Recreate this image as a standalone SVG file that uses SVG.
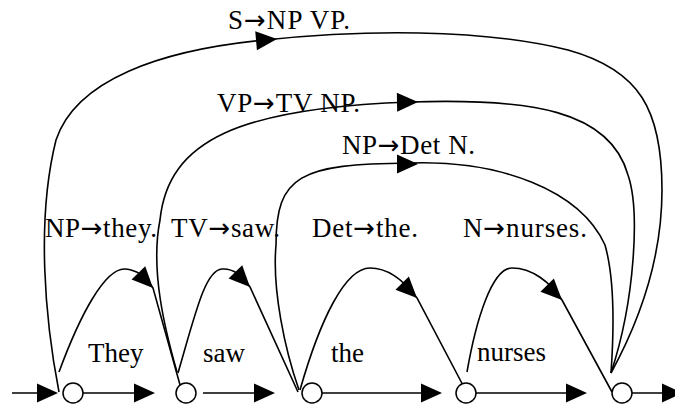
<svg xmlns="http://www.w3.org/2000/svg" xmlns:xlink="http://www.w3.org/1999/xlink" width="675" height="410" viewBox="0 0 675 410">
  <style>
    .edge { fill: none; stroke: #000; stroke-width: 1.6; }
    .head { fill: #000; stroke: none; }
    .state { fill: #fff; stroke: #000; stroke-width: 1.5; }
    .lbl { font-family: "Liberation Serif", "Times New Roman", serif; font-size: 27px; fill: #000; }
    .arw { font-family: "DejaVu Sans", sans-serif; font-size: 26px; }
  </style>
  <defs>
    <!-- arrowhead with its tip at the origin, pointing along +x -->
    <path id="ah" d="M0,0 L-21,-9.5 L-21,9.5 Z"/>
  </defs>
  <rect width="675" height="410" fill="#fff"/>

  <!-- connectors -->
  <g id="connectors">
    <!-- straight transitions along the chart -->
    <path class="edge" d="M12,393 H45"/>
    <use href="#ah" class="head" transform="translate(58,393)"/>
    <path class="edge" d="M83,393 H140"/>
    <use href="#ah" class="head" transform="translate(155,393)"/>
    <path class="edge" d="M203,393 H260"/>
    <use href="#ah" class="head" transform="translate(275,393)"/>
    <path class="edge" d="M322,393 H428"/>
    <use href="#ah" class="head" transform="translate(442,393)"/>
    <path class="edge" d="M476,393 H572"/>
    <use href="#ah" class="head" transform="translate(587,393)"/>
    <path class="edge" d="M632,393 H668"/>
    <use href="#ah" class="head" transform="translate(683,393)"/>

    <!-- lexical arcs -->
    <path class="edge" d="M59,372 C80,315 105,268 125,269 C138,270 147,278 153,288 L182,392"/>
    <use href="#ah" class="head" transform="translate(153,288) rotate(46)"/>
    <path class="edge" d="M178,373 C195,315 205,270 222,269 C235,268 244,278 250,287 L298,392"/>
    <use href="#ah" class="head" transform="translate(250,287) rotate(46)"/>
    <path class="edge" d="M300,390 C320,320 345,268 370,268 C390,268 405,282 417,298 L466,391"/>
    <use href="#ah" class="head" transform="translate(417,298) rotate(45)"/>
    <path class="edge" d="M467,372 C476,320 492,268 512,268 C532,268 550,282 562,300 L612,392"/>
    <use href="#ah" class="head" transform="translate(562,300) rotate(45)"/>

    <!-- phrase arcs -->
    <path class="edge" d="M299,390 C285,350 272,290 276,245 C276,175 300,164 410,163 C500,160 580,190 605,245 C615,280 614,330 611,373"/>
    <use href="#ah" class="head" transform="translate(418,164)"/>
    <path class="edge" d="M177,372 C165,330 150,270 160,220 C168,140 240,108 410,102 C530,98 610,110 628,175 C640,210 635,300 611,373"/>
    <use href="#ah" class="head" transform="translate(418,102) rotate(-1)"/>
    <path class="edge" d="M59,392 C45,320 36,220 56,140 C76,80 160,50 265,40 C360,30 480,28 568,50 C640,70 662,110 662,190 C662,260 640,320 611,373"/>
    <use href="#ah" class="head" transform="translate(277,39) rotate(-5)"/>
  </g>

  <!-- states of the chart -->
  <g id="n0"><circle class="state" cx="73" cy="393" r="10"/></g>
  <g id="n1"><circle class="state" cx="186" cy="393" r="10"/></g>
  <g id="n2"><circle class="state" cx="312" cy="393" r="10"/></g>
  <g id="n3"><circle class="state" cx="466" cy="393" r="10"/></g>
  <g id="n4"><circle class="state" cx="622" cy="393" r="10"/></g>

  <!-- labels -->
  <g id="labels">
    <text class="lbl" x="228" y="29" textLength="122" lengthAdjust="spacing">S<tspan class="arw">→</tspan>NP VP.</text>
    <text class="lbl" x="217" y="112" textLength="143" lengthAdjust="spacing">VP<tspan class="arw">→</tspan>TV NP.</text>
    <text class="lbl" x="342" y="154" textLength="133" lengthAdjust="spacing">NP<tspan class="arw">→</tspan>Det N.</text>
    <text class="lbl" x="45" y="237" textLength="112" lengthAdjust="spacing">NP<tspan class="arw">→</tspan>they.</text>
    <text class="lbl" x="171" y="237" textLength="109" lengthAdjust="spacing">TV<tspan class="arw">→</tspan>saw.</text>
    <text class="lbl" x="312" y="237" textLength="106" lengthAdjust="spacing">Det<tspan class="arw">→</tspan>the.</text>
    <text class="lbl" x="463" y="237" textLength="124" lengthAdjust="spacing">N<tspan class="arw">→</tspan>nurses.</text>
    <text class="lbl" x="88" y="362">They</text>
    <text class="lbl" x="203" y="362">saw</text>
    <text class="lbl" x="331" y="362">the</text>
    <text class="lbl" x="477" y="361">nurses</text>
  </g>
</svg>
